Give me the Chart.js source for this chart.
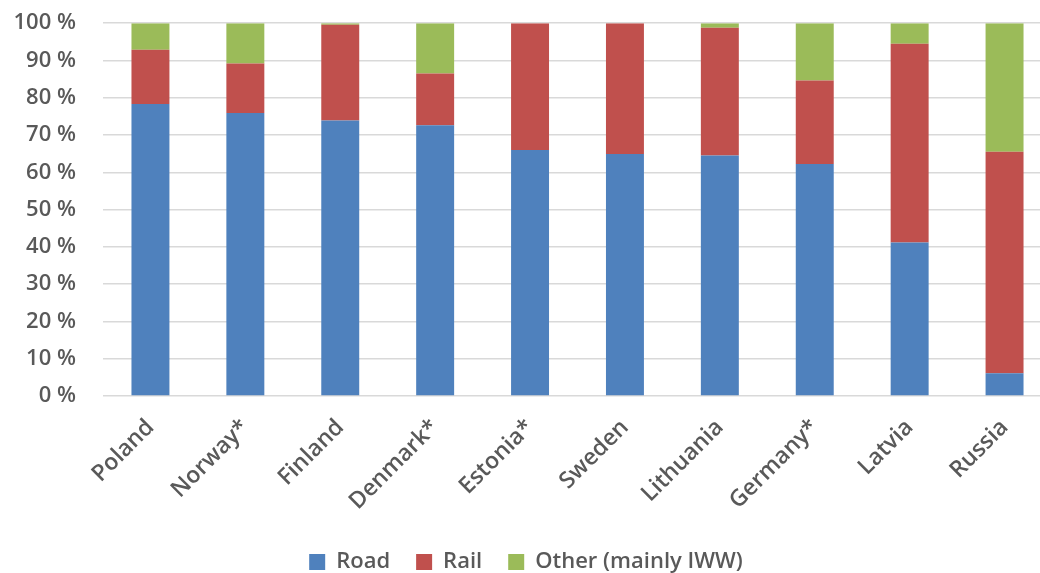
<!DOCTYPE html>
<html>
<head>
<meta charset="utf-8">
<script src="https://cdn.jsdelivr.net/npm/chart.js@4.4.1/dist/chart.umd.min.js"></script>
<style>
  html, body { margin: 0; padding: 0; background: #fff; overflow: hidden; }
  #wrap { position: absolute; left: 0; top: -17px; width: 1056px; height: 590px; }
</style>
</head>
<body>
<div id="wrap"><canvas id="c"></canvas></div>
<script>
const categories = ['Poland', 'Norway*', 'Finland', 'Denmark*', 'Estonia*', 'Sweden', 'Lithuania', 'Germany*', 'Latvia', 'Russia'];
const road  = [78.3, 75.9, 73.9, 72.6, 66.0, 64.9, 64.5, 62.2, 41.2, 6.1];
const rail  = [14.6, 13.3, 25.7, 13.9, 34.0, 35.1, 34.3, 22.4, 53.3, 59.4];
const other = [7.1, 10.8, 0.4, 13.5, 0.0, 0.0, 1.2, 15.4, 5.5, 34.5];
const yTicks = [0, 10, 20, 30, 40, 50, 60, 70, 80, 90, 100];

const FONT = "'Open Sans', sans-serif";
const TXT = '#595959';

new Chart(document.getElementById('c'), {
  type: 'bar',
  data: {
    labels: categories,
    datasets: [
      { label: 'Road', data: road, backgroundColor: '#4f81bd' },
      { label: 'Rail', data: rail, backgroundColor: '#c0504d' },
      { label: 'Other (mainly IWW)', data: other, backgroundColor: '#9bbb59' }
    ]
  },
  options: {
    responsive: true,
    maintainAspectRatio: false,
    animation: false,
    datasets: { bar: { barPercentage: 0.4, categoryPercentage: 1.0 } },
    layout: { padding: { top: -5, left: 0, right: 4, bottom: -10 } },
    plugins: {
      tooltip: { enabled: false },
      legend: {
        position: 'bottom',
        labels: {
          boxWidth: 16, boxHeight: 16, padding: 26,
          color: TXT,
          font: { family: FONT, size: 22, weight: '600' }
        }
      }
    },
    scales: {
      x: {
        stacked: true,
        grid: { display: false },
        border: { display: false },
        ticks: {
          color: TXT, maxRotation: 45, minRotation: 45, padding: 10,
          font: { family: FONT, size: 23, weight: '600' }
        },
        afterFit: s => { s.height = 129; }
      },
      y: {
        stacked: true,
        min: 0, max: 100,
        afterBuildTicks: s => { s.ticks = yTicks.map(v => ({ value: v })); },
        grid: { color: '#d9d9d9', lineWidth: 1.5, drawTicks: false },
        border: { display: false },
        ticks: {
          color: TXT, padding: 27,
          font: { family: FONT, size: 22, weight: '600' },
          callback: v => v + ' %'
        },
        afterFit: s => { s.width = 103; }
      }
    }
  }
});
</script>
</body>
</html>
